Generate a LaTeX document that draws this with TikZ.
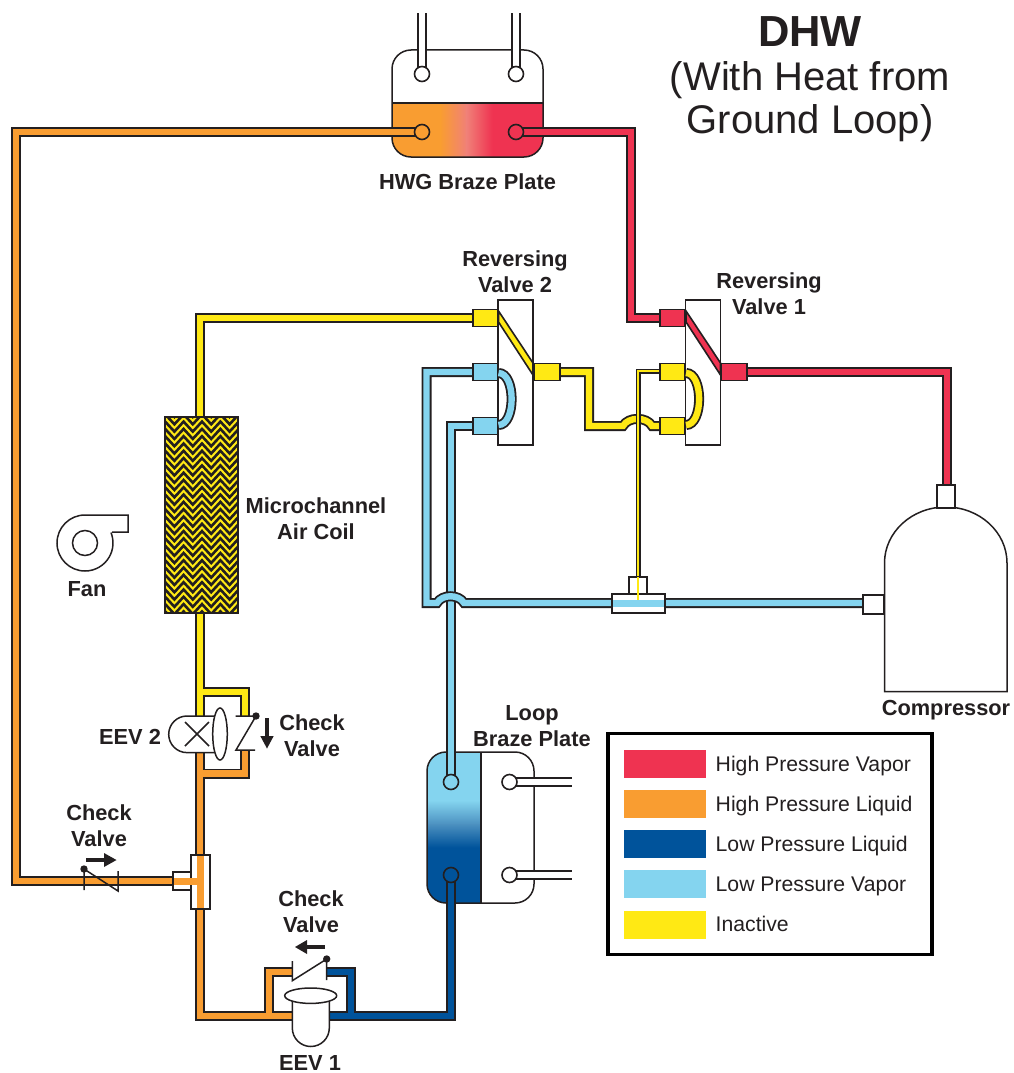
\documentclass[tikz,border=0pt]{standalone}
\usepackage{fontspec}
\setmainfont{Liberation Sans}
\usetikzlibrary{calc}
\definecolor{ink}{HTML}{231F20}
\definecolor{cred}{HTML}{EF3351}
\definecolor{corange}{HTML}{F99D31}
\definecolor{cblue}{HTML}{00539B}
\definecolor{clight}{HTML}{84D4EF}
\definecolor{cyellow}{HTML}{FFE914}
\definecolor{cmidr}{HTML}{F08078}
\definecolor{cmidb}{HTML}{4A8FBF}
\newcommand{\pipeline}[2]{%
  \draw[line width=10pt,ink,miter limit=4] #2;
  \draw[line width=6.4pt,#1,miter limit=4] #2;}
\newcommand{\whitetube}[1]{%
  \draw[line width=9.5pt,ink] #1;
  \draw[line width=6.5pt,white] #1;}
\tikzset{
  lbl/.style={font=\bfseries\fontsize{21.8}{26}\selectfont,text=ink,align=center,inner sep=0pt},
  leg/.style={font=\fontsize{21.2}{25}\selectfont,text=ink,anchor=base west,inner sep=0pt},
  ttl/.style={font=\fontsize{40}{44}\selectfont,text=ink,anchor=base,inner sep=0pt},
  port/.style={draw=ink,line width=1.6pt,inner sep=0pt,minimum width=25pt,minimum height=17pt},
  wbox/.style={draw=ink,line width=1.6pt,fill=white,inner sep=0pt},
  ln/.style={draw=ink,line width=1.5pt},
  swatch/.style={inner sep=0pt,minimum width=82pt,minimum height=28pt},
  circ/.style={circle,draw=ink,line width=1.6pt,inner sep=0pt,minimum size=15pt},
}
\begin{document}
\begin{tikzpicture}[x=1pt,y=-1pt]
\useasboundingbox (0,0) rectangle (1013,1073);
% ---------- named points ----------
\coordinate (hwgL) at (422,132);
\coordinate (hwgR) at (516,132);
\coordinate (hwgTL) at (422,74);
\coordinate (hwgTR) at (516,74);
\coordinate (loopA) at (451,782);
\coordinate (loopB) at (451,875);
\coordinate (loopC) at (509.5,782);
\coordinate (loopD) at (509.5,875);
\coordinate (v1a) at (672.5,318);
\coordinate (v1b) at (672.5,372);
\coordinate (v1bt) at (665,371);
\coordinate (v1c) at (672.5,426);
\coordinate (v1o) at (734,372);
\coordinate (v2a) at (485.5,318);
\coordinate (v2b) at (485.5,372);
\coordinate (v2c) at (485.5,426);
\coordinate (v2o) at (547,372);
\coordinate (tee) at (638.5,603);
\coordinate (compS) at (873,603);
\coordinate (compD) at (947,497);
\coordinate (coilT) at (200,417);
\coordinate (coilB) at (200,613);
\coordinate (teeO) at (200.5,881);
\coordinate (eev2T) at (200,716);
\coordinate (eev2B) at (200,752);
\coordinate (eev1L) at (292,1016);
\coordinate (eev1R) at (329,1016);
% ---------- HWG braze plate body ----------
\begin{scope}
  \clip[rounded corners=19pt] (392,50) rectangle (543,157);
  \fill[white] (392,50) rectangle (543,103);
  \fill[corange] (392,103) rectangle (441,157);
  \fill[cred] (492,103) rectangle (543,157);
  \shade[left color=corange,right color=cmidr] (440.5,103) rectangle (467,157);
  \shade[left color=cmidr,right color=cred] (466.5,103) rectangle (492.5,157);
\end{scope}
\draw[ln,rounded corners=19pt] (392,50) rectangle (543,157);
\draw[ln] (392,103) -- (543,103);
\whitetube{(hwgTL) -- (422,13)}
\whitetube{(hwgTR) -- (516,13)}
% ---------- Loop braze plate body ----------
\begin{scope}
  \clip[rounded corners=19pt] (427,752) rectangle (534,903);
  \fill[clight] (427,752) rectangle (481,801);
  \fill[cblue] (427,847) rectangle (481,903);
  \shade[top color=clight,bottom color=cmidb] (427,800.5) rectangle (481,825);
  \shade[top color=cmidb,bottom color=cblue] (427,824.5) rectangle (481,847.5);
\end{scope}
\draw[ln,rounded corners=19pt] (427,752) rectangle (534,903);
\draw[ln] (481,752) -- (481,903);
\whitetube{(loopC) -- (572,782)}
\whitetube{(loopD) -- (572,875)}
% ---------- pipes ----------
\pipeline{cred}{(hwgR) -- (631,132) -- (631,318) -- (v1a)  (v1o) -- (947,372) -- (compD)}
\pipeline{corange}{(hwgL) -- (16,132) -- (16,881) -- (teeO)
   (eev2B) -- (200,1016) -- (eev1L)  (200,773.5) -- (245,773.5) -- (245,750)  (269,1016) -- (269,971.7) -- (292,971.7)}
\pipeline{cblue}{(loopB) -- (451,1016) -- (eev1R)  (351,1016) -- (351,971.7) -- (327,971.7)}
\pipeline{cyellow}{(v2a) -- (200,318) -- (coilT)  (coilB) -- (eev2T)  (200,692) -- (245,692) -- (245,716)}
\pipeline{cyellow}{(v2o) -- (589,372) -- (589,426) -- (623,426) .. controls (628,416.5) and (647,416.5) .. (652,426) -- (v1c)}
\pipeline{clight}{(v2c) -- (451,426) -- (loopA)}
\pipeline{clight}{(v2b) -- (426.5,372) -- (426.5,603) -- (437,603) .. controls (442,594) and (459,594) .. (464,603) -- (compS)}
% thin yellow line
\draw[line width=5pt,ink] (v1bt) -- (638,371) -- (638,590);
\draw[line width=2.2pt,cyellow] (v1bt) -- (638,371) -- (638,590);
% ---------- circles of plates ----------
\node[circ,fill=white] (c1) at (hwgTL) {};
\node[circ,fill=white] (c2) at (hwgTR) {};
\node[circ,fill=corange] (c3) at (hwgL) {};
\node[circ,fill=cred] (c4) at (hwgR) {};
\node[circ,fill=clight] (c5) at (loopA) {};
\node[circ,fill=cblue] (c6) at (loopB) {};
\node[circ,fill=white] (c7) at (loopC) {};
\node[circ,fill=white] (c8) at (loopD) {};
% ---------- reversing valve 2 ----------
\node[wbox,minimum width=35pt,minimum height=145pt] (rv2) at (515.5,372.5) {};
\node[port,fill=cyellow] (p21) at (v2a) {};
\node[port,fill=clight] (p22) at (v2b) {};
\node[port,fill=clight] (p23) at (v2c) {};
\node[port,fill=cyellow,minimum width=26pt] (p24) at (v2o) {};
\draw[line width=1.6pt,ink,fill=cyellow] (498.5,311) -- (533,363) -- (533,375) -- (498.5,322) -- cycle;
\draw[line width=10pt,ink] (498.5,373) .. controls (516,373) and (516,425) .. (498.5,425);
\draw[line width=6.4pt,clight] (498.5,373) .. controls (516,373) and (516,425) .. (498.5,425);
% ---------- reversing valve 1 ----------
\node[wbox,minimum width=35pt,minimum height=145pt] (rv1) at (703,372.5) {};
\node[port,fill=cred] (p11) at (v1a) {};
\node[port,fill=cyellow] (p12) at (v1b) {};
\node[port,fill=cyellow] (p13) at (v1c) {};
\node[port,fill=cred,minimum width=26pt] (p14) at (v1o) {};
\draw[line width=1.6pt,ink,fill=cred] (686,311) -- (720.5,363) -- (720.5,375) -- (686,322) -- cycle;
\draw[line width=10pt,ink] (686,373) .. controls (703.5,373) and (703.5,425) .. (686,425);
\draw[line width=6.4pt,cyellow] (686,373) .. controls (703.5,373) and (703.5,425) .. (686,425);
% ---------- compressor ----------
\draw[ln,fill=white] (884.5,691.5) -- (884.5,563) arc[start angle=180,end angle=360,x radius=61.25,y radius=56] -- (1007,691.5) -- cycle;
\node[wbox,minimum width=18.5pt,minimum height=23pt] (cs1) at (946,496.5) {};
\node[wbox,minimum width=21.5pt,minimum height=19pt] (cs2) at (873.5,604.5) {};
% ---------- suction tee ----------
\node[wbox,minimum width=18pt,minimum height=17pt] (t1) at (638,585.5) {};
\node[wbox,minimum width=53pt,minimum height=19pt] (t2) at (638.5,603.5) {};
\fill[clight] (613,600) rectangle (664,607);
\draw[line width=2.2pt,cyellow] (638,577) -- (638,600);
% ---------- coil ----------
\fill[cyellow] (164.5,417) rectangle (238,613);
\begin{scope}
  \clip (164.5,417) rectangle (238,613);
  \foreach \yy in {417,424.3,...,632}{
    \draw[ink,line width=2.6pt,miter limit=6] (156,\yy) \foreach \ii in {1,...,6}{ -- ++(9.2,-10) -- ++(9.2,10)};
  }
\end{scope}
\draw[line width=2pt,ink] (164.5,417) rectangle (238,613);
% ---------- fan ----------
\draw[ln] (112,532) -- (128,532) -- (128,515) -- (85,515) arc[start angle=270,end angle=-22,radius=28];
\draw[ln] (85,543) circle[radius=12.5];
% ---------- EEV 2 ----------
\draw[ln,fill=white] (220,716) -- (187,716) arc[start angle=270,end angle=90,radius=18.3] -- (220,752.6);
\draw[ln] (185,722) -- (209,746) (209,722) -- (185,746);
\draw[ln,fill=white] (220,734) ellipse[x radius=7.3,y radius=26];
\draw[ln,fill=white,draw=none] (236,716) rectangle (255,750);
\draw[ln] (235.5,716) -- (253,716) (256,716) -- (236,750) -- (255,750);
\fill[ink] (256,716) circle[radius=3.7];
\draw[ink,line width=3.4pt] (267,718) -- (267,738);
\fill[ink] (260.3,736) -- (273.7,736) -- (267,748.5) -- cycle;
% ---------- check valve left ----------
\draw[ln] (84,869) -- (84,890) (118,871) -- (118,891) -- (84,869);
\fill[ink] (84,869) circle[radius=3.7];
\draw[ink,line width=3.4pt] (86,860) -- (106,860);
\fill[ink] (104,853) -- (104,867) -- (116.5,860) -- cycle;
% ---------- outlet tee ----------
\node[wbox,minimum width=18pt,minimum height=18pt] (t3) at (182,881) {};
\node[wbox,minimum width=19pt,minimum height=54pt] (t4) at (200.5,882) {};
\fill[corange] (197,855.8) rectangle (204,908.2);
\fill[corange] (174,877.6) rectangle (204,885);
% ---------- EEV 1 ----------
\draw[ln,fill=white,draw=none] (293,962) rectangle (326,990);
\draw[ln] (292.3,961) -- (292.3,980.7) -- (326.7,959) -- (326.7,980);
\fill[ink] (326.7,959) circle[radius=3.7];
\draw[ink,line width=3.4pt] (325,947) -- (305,947);
\fill[ink] (307,940) -- (307,954) -- (295,947) -- cycle;
\draw[ln,fill=white] (292.3,996) -- (292.3,1028) arc[start angle=180,end angle=0,radius=18.5] -- (329.3,996);
\draw[ln,fill=white] (310.7,995.7) ellipse[x radius=26,y radius=7.7];
% ---------- legend ----------
\draw[black,line width=3.6pt] (608,733.5) rectangle (932,954.5);
\node[swatch,fill=cred] (s1) at (665,764) {};
\node[swatch,fill=corange] (s2) at (665,804) {};
\node[swatch,fill=cblue] (s3) at (665,844) {};
\node[swatch,fill=clight] (s4) at (665,884) {};
\node[swatch,fill=cyellow] (s5) at (665,925) {};
\node[leg] (l1) at (715.5,771) {High Pressure Vapor};
\node[leg] (l2) at (715.5,811) {High Pressure Liquid};
\node[leg] (l3) at (715.5,851) {Low Pressure Liquid};
\node[leg] (l4) at (715.5,891) {Low Pressure Vapor};
\node[leg] (l5) at (715.5,931) {Inactive};
% ---------- labels ----------
\node[ttl,font=\bfseries\fontsize{43.5}{44}\selectfont] (tt1) at (810,47) {DHW};
\node[ttl] (tt2) at (810,90) {(With Heat from};
\node[ttl] (tt3) at (810,133) {Ground Loop)};
\node[lbl] (n1) at (467.5,182) {HWG Braze Plate};
\node[lbl] (n2) at (515,272) {Reversing\\Valve 2};
\node[lbl] (n3) at (769,294) {Reversing\\Valve 1};
\node[lbl] (n4) at (316,519) {Microchannel\\Air Coil};
\node[lbl] (n5) at (87,589) {Fan};
\node[lbl] (n6) at (130,737) {EEV 2};
\node[lbl] (n7) at (312,736) {Check\\Valve};
\node[lbl] (n8) at (99,826) {Check\\Valve};
\node[lbl] (n9) at (311,912) {Check\\Valve};
\node[lbl] (n10) at (532,726) {Loop\\Braze Plate};
\node[lbl] (n11) at (946,710) {Compressor};
\node[lbl] (n12) at (310,1063) {EEV 1};
\end{tikzpicture}
\end{document}
